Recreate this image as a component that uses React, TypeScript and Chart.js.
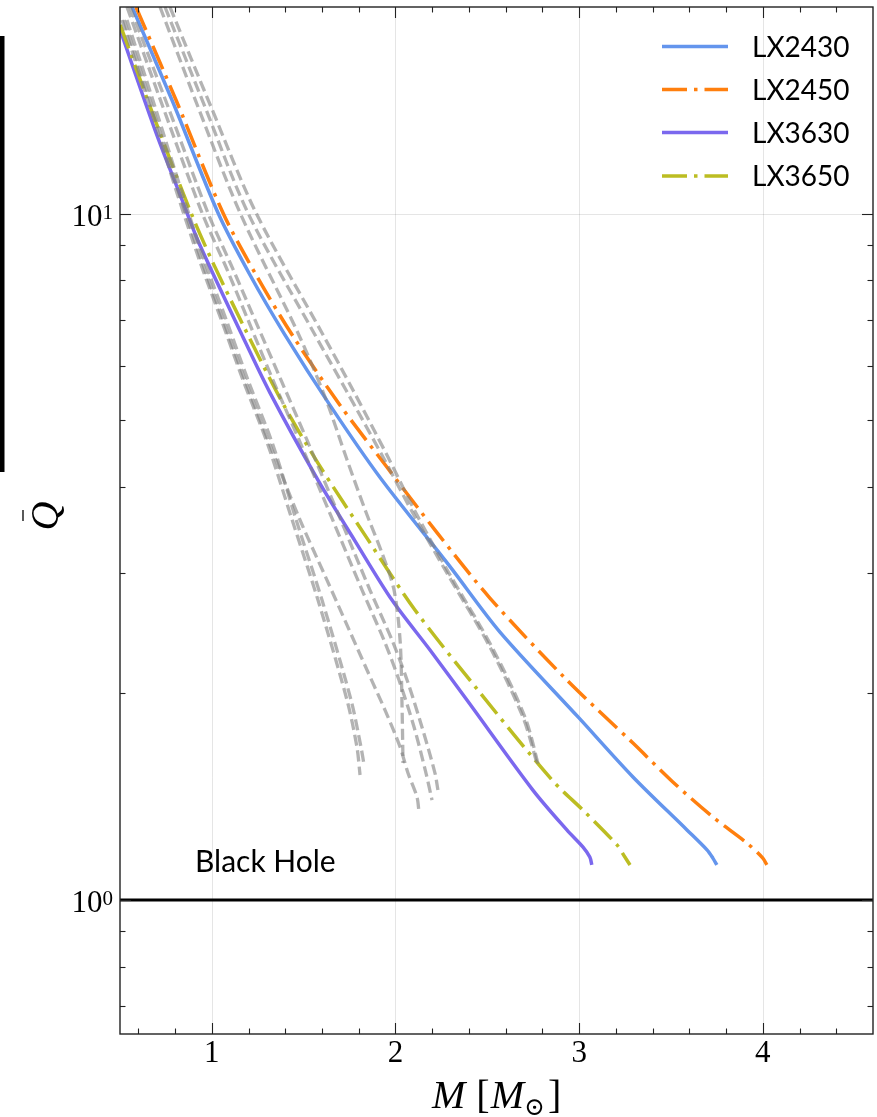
import { useEffect, useRef } from "react";
import { Chart, registerables } from "chart.js";

Chart.register(...registerables);

// ---------- data (M in solar masses, Q-bar) ----------
const massLX2430 = [0.566, 0.783, 1.034, 1.208, 1.398, 1.643, 1.915, 2.297, 2.569, 2.999, 3.293, 3.587, 3.696, 3.728, 3.75];
const qLX2430 = [20.0, 14.64, 10.02, 8.14, 6.66, 5.26, 4.13, 3.06, 2.457, 1.842, 1.511, 1.265, 1.183, 1.151, 1.125];

const massLX2450 = [0.587, 0.805, 1.061, 1.241, 1.437, 1.698, 1.954, 2.226, 2.514, 2.933, 3.293, 3.51, 3.728, 3.913, 4.0, 4.022];
const qLX2450 = [20.0, 14.64, 10.02, 8.14, 6.66, 5.26, 4.27, 3.43, 2.754, 2.092, 1.693, 1.486, 1.321, 1.211, 1.151, 1.125];

const massLX3630 = [0.501, 0.697, 0.838, 0.93, 1.159, 1.317, 1.578, 1.78, 1.981, 2.188, 2.389, 2.748, 2.933, 3.02, 3.058, 3.069];
const qLX3630 = [18.51, 13.1, 10.47, 9.06, 6.7, 5.48, 4.09, 3.334, 2.735, 2.313, 1.956, 1.446, 1.265, 1.195, 1.155, 1.125];

const massLX3650 = [0.501, 0.691, 0.887, 1.007, 1.175, 1.377, 1.578, 1.85, 2.106, 2.449, 2.852, 3.032, 3.206, 3.249, 3.277];
const qLX3650 = [18.83, 13.69, 10.02, 8.47, 6.84, 5.35, 4.33, 3.35, 2.646, 2.022, 1.496, 1.343, 1.203, 1.155, 1.125];

// background (grey dashed) models
const massBg1 = [0.511, 0.664, 0.81, 0.936, 1.056, 1.17, 1.306, 1.437, 1.578, 1.736, 1.79, 1.807];
const qBg1 = [19.14, 14.3, 10.72, 8.5, 6.95, 5.72, 4.6, 3.58, 2.735, 1.956, 1.671, 1.521];
const massBg2 = [0.538, 0.691, 0.838, 0.963, 1.083, 1.197, 1.333, 1.459, 1.6, 1.758, 1.812, 1.829];
const qBg2 = [19.14, 14.3, 10.72, 8.5, 6.95, 5.72, 4.6, 3.58, 2.735, 1.956, 1.671, 1.573];
const massBg3 = [0.522, 0.675, 0.821, 0.947, 1.066, 1.181, 1.317, 1.48, 1.627, 1.741, 1.845, 1.943, 2.025, 2.068, 2.117, 2.128];
const qBg3 = [19.14, 14.3, 10.72, 8.5, 6.95, 5.72, 4.6, 3.58, 2.925, 2.498, 2.163, 1.891, 1.671, 1.531, 1.413, 1.343];
const massBg4 = [0.538, 0.734, 0.947, 1.077, 1.197, 1.333, 1.475, 1.654, 1.818, 1.937, 2.019, 2.101, 2.166, 2.199];
const qBg4 = [20.0, 14.3, 10.02, 8.36, 7.0, 5.72, 4.68, 3.6, 2.829, 2.392, 2.092, 1.787, 1.531, 1.398];
const massBg5 = [0.555, 0.762, 0.979, 1.11, 1.235, 1.377, 1.518, 1.698, 1.861, 1.981, 2.063, 2.144, 2.215, 2.231];
const qBg5 = [20.0, 14.3, 10.02, 8.36, 7.0, 5.72, 4.68, 3.6, 2.829, 2.392, 2.092, 1.787, 1.531, 1.446];
const massBg6 = [0.718, 0.925, 1.154, 1.469, 1.616, 1.736, 1.839, 1.927, 1.992, 2.025, 2.035, 2.041];
const qBg6 = [20.0, 14.3, 10.02, 6.7, 5.41, 4.38, 3.675, 3.2, 2.829, 2.392, 1.956, 1.584];
const massBg7 = [0.745, 0.963, 1.197, 1.556, 1.731, 1.932, 2.095, 2.28, 2.514, 2.694, 2.77];
const qBg7 = [20.0, 14.3, 10.02, 6.7, 5.53, 4.42, 3.66, 2.995, 2.337, 1.847, 1.584];
const massBg8 = [0.772, 0.996, 1.241, 1.6, 1.769, 1.959, 2.112, 2.291, 2.525, 2.705, 2.781];
const qBg8 = [20.0, 14.3, 10.02, 6.7, 5.53, 4.42, 3.66, 2.995, 2.337, 1.847, 1.563];

const blackHoleMass = [0.5, 4.6];
const blackHoleQ = [1, 1];

const seriesLabels = ["LX2430", "LX2450", "LX3630", "LX3650"];
const seriesColors = ["#6495ED", "#FF7F0E", "#7B68EE", "#BCBD22"];
const xMajorTicks = [1, 2, 3, 4];
const xMinorTicks = [0.6, 0.8, 1.2, 1.4, 1.6, 1.8, 2.2, 2.4, 2.6, 2.8, 3.2, 3.4, 3.6, 3.8, 4.2, 4.4];
const yMajorTicks = [1, 10];
const yMajorExp = ["0", "1"];
const yMinorTicks = [0.7, 0.8, 0.9, 2, 3, 4, 5, 6, 7, 8, 9];

const W = 877;
const H = 1117;
const DASHDOT = [25, 7, 3.5, 7];
const GREY = "rgba(128,128,128,0.6)";

const pts = (m: number[], q: number[]) => m.map((v, i) => ({ x: v, y: q[i] }));

const decor = {
  id: "decor",
  beforeDatasetsDraw(chart: any) {
    const { ctx, chartArea: a, scales } = chart;
    const x = scales.x, y = scales.y;
    ctx.save();
    ctx.strokeStyle = "rgba(0,0,0,0.1)";
    ctx.lineWidth = 1;
    xMajorTicks.forEach((v) => {
      const px = Math.round(x.getPixelForValue(v)) + 0.5;
      ctx.beginPath(); ctx.moveTo(px, a.top); ctx.lineTo(px, a.bottom); ctx.stroke();
    });
    yMajorTicks.forEach((v) => {
      const py = Math.round(y.getPixelForValue(v)) + 0.5;
      ctx.beginPath(); ctx.moveTo(a.left, py); ctx.lineTo(a.right, py); ctx.stroke();
    });
    ctx.restore();
  },
  afterDraw(chart: any) {
    const { ctx, chartArea: a, scales } = chart;
    const x = scales.x, y = scales.y;
    ctx.save();
    ctx.strokeStyle = "#222";
    ctx.lineWidth = 1.1;
    const tick = (x1: number, y1: number, x2: number, y2: number) => {
      ctx.beginPath(); ctx.moveTo(x1, y1); ctx.lineTo(x2, y2); ctx.stroke();
    };
    xMajorTicks.forEach((v) => {
      const px = Math.round(x.getPixelForValue(v)) + 0.5;
      tick(px, a.bottom, px, a.bottom - 11);
      tick(px, a.top, px, a.top + 11);
    });
    xMinorTicks.forEach((v) => {
      const px = Math.round(x.getPixelForValue(v)) + 0.5;
      tick(px, a.bottom, px, a.bottom - 5.5);
      tick(px, a.top, px, a.top + 5.5);
    });
    yMajorTicks.forEach((v) => {
      const py = Math.round(y.getPixelForValue(v)) + 0.5;
      tick(a.left, py, a.left + 11, py);
      tick(a.right, py, a.right - 11, py);
    });
    yMinorTicks.forEach((v) => {
      const py = Math.round(y.getPixelForValue(v)) + 0.5;
      tick(a.left, py, a.left + 5.5, py);
      tick(a.right, py, a.right - 5.5, py);
    });
    ctx.lineWidth = 1.4;
    ctx.strokeRect(a.left, a.top, a.right - a.left, a.bottom - a.top);

    const serif = "'Liberation Serif', 'DejaVu Serif', serif";
    ctx.fillStyle = "#000";
    ctx.textBaseline = "alphabetic";
    ctx.textAlign = "center";
    ctx.font = `31px ${serif}`;
    xMajorTicks.forEach((v) => {
      ctx.fillText(String(v), x.getPixelForValue(v), a.bottom + 28);
    });
    yMajorTicks.forEach((v, i) => {
      const py = y.getPixelForValue(v);
      ctx.font = `21px ${serif}`;
      const supW = ctx.measureText(yMajorExp[i]).width;
      ctx.textAlign = "left";
      ctx.fillText(yMajorExp[i], a.left - 7 - supW, py + 5);
      ctx.font = `31px ${serif}`;
      ctx.textAlign = "right";
      ctx.fillText("10", a.left - 7 - supW, py + 12);
    });

    // x-axis title: M [M_sun]
    let cx = 432;
    const by = 1108;
    ctx.textAlign = "left";
    ctx.font = `italic 40px ${serif}`;
    ctx.fillText("M", cx, by); cx += ctx.measureText("M").width + 11;
    ctx.font = `40px ${serif}`;
    ctx.fillText("[", cx, by); cx += ctx.measureText("[").width + 1;
    ctx.font = `italic 40px ${serif}`;
    ctx.fillText("M", cx, by); cx += ctx.measureText("M").width;
    ctx.font = `25px 'DejaVu Serif', serif`;
    ctx.fillText("\u2299", cx, by + 7); cx += ctx.measureText("\u2299").width + 3;
    ctx.font = `40px ${serif}`;
    ctx.fillText("]", cx, by);

    // y-axis title: Q-bar (rotated)
    ctx.save();
    ctx.translate(58, 516);
    ctx.rotate(-Math.PI / 2);
    ctx.font = `italic 40px ${serif}`;
    ctx.textAlign = "center";
    ctx.fillText("Q", 0, 0);
    ctx.lineWidth = 1.3;
    ctx.strokeStyle = "#000";
    ctx.beginPath(); ctx.moveTo(-5, -35); ctx.lineTo(6, -35); ctx.stroke();
    ctx.restore();

    // stray black bar at left edge
    ctx.fillStyle = "#000";
    ctx.fillRect(0, 36, 4.5, 436);

    // annotation
    ctx.textAlign = "left";
    ctx.font = "30px Lato, 'Noto Sans', sans-serif";
    ctx.fillText("Black Hole", 195, 872);

    // legend
    const legY = [46.5, 89.5, 132.5, 176];
    seriesLabels.forEach((lab, i) => {
      ctx.save();
      ctx.strokeStyle = seriesColors[i];
      ctx.lineWidth = 3.5;
      ctx.lineCap = "butt";
      ctx.setLineDash(i % 2 === 1 ? DASHDOT : []);
      ctx.beginPath(); ctx.moveTo(662, legY[i]); ctx.lineTo(728, legY[i]); ctx.stroke();
      ctx.restore();
      ctx.fillStyle = "#000";
      ctx.textBaseline = "middle";
      ctx.font = "28px Lato, 'Noto Sans', sans-serif";
      ctx.fillText(lab, 752, legY[i] + 1);
    });
    ctx.restore();
  },
};

export default function App() {
  const ref = useRef<HTMLCanvasElement | null>(null);
  useEffect(() => {
    if (!ref.current) return;
    const bg = [
      [massBg1, qBg1], [massBg2, qBg2], [massBg3, qBg3], [massBg4, qBg4],
      [massBg5, qBg5], [massBg6, qBg6], [massBg7, qBg7], [massBg8, qBg8],
    ];
    const greyDs = bg.map(([m, q]) => ({
      label: "",
      data: pts(m, q),
      borderColor: GREY,
      borderWidth: 3.3,
      borderDash: [11, 5],
      pointRadius: 0,
      tension: 0.3,
      order: 0,
    }));
    const main = [
      [massLX2430, qLX2430, 4],
      [massLX2450, qLX2450, 3],
      [massLX3630, qLX3630, 2],
      [massLX3650, qLX3650, 1],
    ].map(([m, q, ord]: any, i) => ({
      label: seriesLabels[i],
      data: pts(m, q),
      borderColor: seriesColors[i],
      borderWidth: 3.5,
      borderDash: i % 2 === 1 ? DASHDOT : [],
      pointRadius: 0,
      tension: 0.3,
      order: ord,
    }));
    const bh = {
      label: "Black Hole",
      data: pts(blackHoleMass, blackHoleQ),
      borderColor: "#000",
      borderWidth: 3,
      pointRadius: 0,
      order: 5,
    };
    const chart = new Chart(ref.current, {
      type: "line",
      data: { datasets: [...greyDs, ...main, bh] as any },
      options: {
        responsive: false,
        maintainAspectRatio: false,
        devicePixelRatio: 1,
        animation: false,
        layout: { padding: { left: 120, right: 4, top: 7, bottom: 83 } },
        plugins: { legend: { display: false }, tooltip: { enabled: false } },
        scales: {
          x: { type: "linear", min: 0.5, max: 4.6, bounds: "data", display: false },
          y: { type: "logarithmic", min: 0.638, max: 20, bounds: "data", display: false },
        },
      },
      plugins: [decor],
    });
    return () => chart.destroy();
  }, []);
  return (
    <div style={{ position: "absolute", left: 0, top: 0, width: W, height: H, background: "#fff" }}>
      <canvas ref={ref} width={W} height={H} style={{ display: "block", width: W, height: H }} />
    </div>
  );
}
